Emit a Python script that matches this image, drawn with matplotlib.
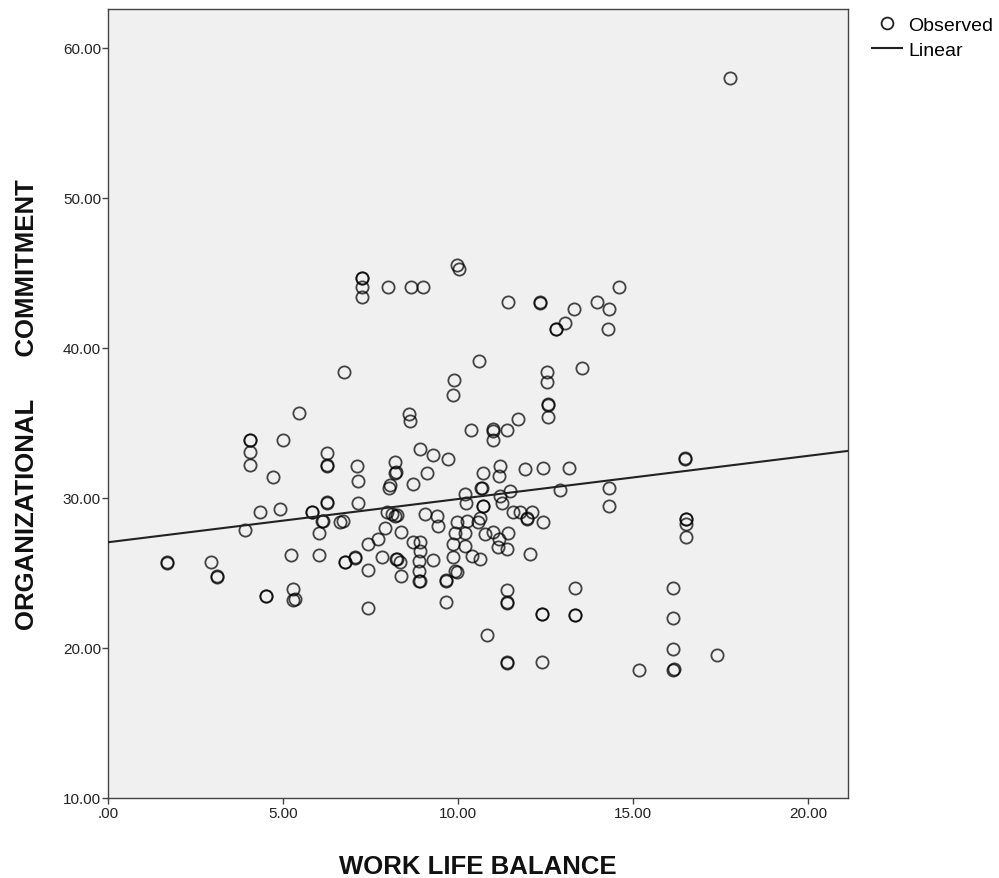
import matplotlib
matplotlib.use("Agg")
import matplotlib.pyplot as plt
import numpy as np
from matplotlib.lines import Line2D
from matplotlib.ticker import FuncFormatter

plt.rcParams['font.family'] = ['Liberation Sans', 'DejaVu Sans']

# Observed points (work life balance, organizational commitment)
wlb = [
    1.68, 1.69, 2.94, 3.10, 3.12, 3.91,
    4.06, 4.06, 4.06, 4.06, 4.34, 4.50, 4.51, 4.70, 4.90, 5.00, 5.23, 5.28, 5.28, 5.34, 5.47,
    5.82, 5.83, 6.04, 6.04, 6.10, 6.15, 6.25, 6.26, 6.25, 6.25, 6.25, 6.63, 6.72, 6.74, 6.77, 6.78,
    7.06, 7.07, 7.10, 7.15, 7.15, 7.25, 7.25, 7.25, 7.26, 7.44, 7.44, 7.44, 7.72, 7.82, 7.91, 7.96, 8.01,
    8.04, 8.06, 8.10, 8.20, 8.20, 8.21, 8.23, 8.24, 8.25, 8.26, 8.34, 8.37, 8.37,
    8.61, 8.62, 8.65, 8.70, 8.72, 8.89, 8.89, 8.89, 8.90, 8.91, 8.91, 8.91, 8.99, 9.06, 9.10, 9.29, 9.29,
    9.39, 9.44, 9.66, 9.66, 9.67, 9.70, 9.87, 9.87, 9.87, 9.89, 9.91, 9.91, 9.96, 9.96, 9.97, 10.04,
    10.20, 10.20, 10.21, 10.23, 10.25, 10.37, 10.39, 10.58, 10.61, 10.63, 10.63, 10.67, 10.68,
    10.70, 10.71, 10.72, 10.77, 10.82, 11.00, 11.00, 11.00, 11.01, 11.15, 11.18, 11.18, 11.20, 11.20,
    11.25, 11.39, 11.39, 11.39, 11.39, 11.40, 11.39, 11.40, 11.44, 11.44, 11.49, 11.58, 11.72, 11.77, 11.91,
    11.96, 11.97, 12.06, 12.10, 12.34, 12.35, 12.39, 12.40, 12.39, 12.42, 12.44, 12.55, 12.55, 12.56,
    12.56, 12.56, 12.80, 12.81, 12.91, 13.06, 13.18, 13.31, 13.34, 13.34, 13.35, 13.53, 13.98, 14.28,
    14.30, 14.30, 14.30, 14.61, 15.18, 16.15, 16.15, 16.15, 16.15, 16.16, 16.49, 16.49, 16.50, 16.51,
    16.51, 16.51, 17.41, 17.77,
]
oc = [
    25.71, 25.65, 25.71, 24.80, 24.75, 27.89,
    33.87, 33.90, 33.07, 32.20, 29.04, 23.50, 23.45, 31.38, 29.30, 33.87, 26.20, 23.93, 23.20, 23.27, 35.67,
    29.04, 29.10, 26.20, 27.67, 28.50, 28.50, 33.00, 32.15, 32.20, 29.76, 29.70, 28.40, 28.50, 38.38, 25.71, 25.75,
    26.04, 26.00, 32.15, 31.15, 29.70, 44.70, 44.65, 44.04, 43.40, 26.93, 25.20, 22.64, 27.27, 26.04, 27.97, 29.04, 44.04,
    30.64, 30.87, 28.93, 28.80, 32.40, 31.70, 31.75, 25.93, 25.95, 28.85, 25.71, 27.75, 24.80,
    35.60, 35.15, 44.04, 30.93, 27.09, 25.82, 25.15, 24.49, 24.45, 27.09, 26.49, 33.30, 44.04, 28.93, 31.67, 32.87, 25.89,
    28.80, 28.15, 23.04, 24.55, 24.50, 32.60, 36.87, 26.93, 26.04, 37.87, 27.70, 25.15, 28.40, 45.53, 25.10, 45.27,
    30.27, 27.70, 26.80, 29.70, 28.50, 34.55, 26.15, 28.40, 39.15, 28.70, 25.93, 30.70, 30.65,
    29.50, 29.45, 31.70, 27.60, 20.87, 34.60, 34.45, 33.87, 27.75, 26.76, 31.45, 27.30, 32.15, 30.15,
    29.70, 34.55, 26.62, 23.87, 23.04, 23.00, 19.04, 19.00, 43.04, 27.70, 30.49, 29.04, 35.27, 29.04, 31.96,
    28.64, 28.60, 26.27, 29.09, 43.04, 43.00, 22.30, 22.25, 19.04, 28.42, 32.00, 38.38, 37.71, 36.27,
    36.20, 35.38, 41.27, 41.30, 30.55, 41.70, 32.00, 42.60, 24.00, 22.22, 22.18, 38.64, 43.04, 41.27,
    42.60, 30.64, 29.44, 44.04, 18.55, 24.00, 22.00, 19.93, 18.55, 18.60, 32.60, 32.64, 28.60, 28.27,
    28.60, 27.38, 19.55, 57.98,
]

# Linear fit line (intercept, slope)
fit_intercept = 27.05
fit_slope = 0.288

x_ticks = [0, 5, 10, 15, 20]
y_ticks = [10, 20, 30, 40, 50, 60]
x_label = "WORK LIFE BALANCE"
y_label = "ORGANIZATIONAL      COMMITMENT"

fig = plt.figure(figsize=(9.99, 8.79), dpi=100)
ax = fig.add_axes([108/999, 1 - 799/879, (848-108)/999, (799-10)/879])
ax.set_facecolor('#f0f0f0')

xmin, xmax = 0, 740/35
ymin, ymax = 10, 10 + 789/15
ax.set_xlim(xmin, xmax)
ax.set_ylim(ymin, ymax)

ax.plot(wlb, oc, linestyle='none', marker='o', markersize=8.8,
        markerfacecolor='none', markeredgecolor=(0, 0, 0, 0.72), markeredgewidth=1.3, zorder=3)

xs = np.array([xmin, xmax])
ax.plot(xs, fit_intercept + fit_slope * xs, color='#222222', linewidth=1.5, zorder=4)

ax.set_xticks(x_ticks)
ax.set_yticks(y_ticks)

def fmt(v, pos):
    s = f"{v:.2f}"
    if s.startswith("0."):
        s = s[1:]
    return s

ax.xaxis.set_major_formatter(FuncFormatter(fmt))
ax.yaxis.set_major_formatter(FuncFormatter(fmt))
ax.tick_params(axis='both', direction='out', length=4, width=1, color='#444444',
               labelsize=11, labelcolor='#222222')
ax.tick_params(axis='y', pad=1)
ax.tick_params(axis='x', pad=2)
for s in ax.spines.values():
    s.set_color('#444444')
    s.set_linewidth(1)

ax.set_xlabel(x_label, fontsize=18.5, fontweight='bold', labelpad=24, color='#111111')
ax.set_ylabel(y_label, fontsize=18.5, fontweight='bold', labelpad=17, color='#111111')

handles = [
    Line2D([], [], linestyle='none', marker='o', markersize=8.5, markerfacecolor='none',
           markeredgecolor='#222222', markeredgewidth=1.3),
    Line2D([], [], color='#222222', linewidth=1.5),
]
leg = fig.legend(handles, ['Observed', 'Linear'], loc='upper left',
                 bbox_to_anchor=(872/999, 1 - 17/879), frameon=False, fontsize=14,
                 handlelength=1.55, handletextpad=0.3, labelspacing=0.4,
                 borderaxespad=0, borderpad=0)

fig.savefig("out.png", dpi=100, facecolor='white')
